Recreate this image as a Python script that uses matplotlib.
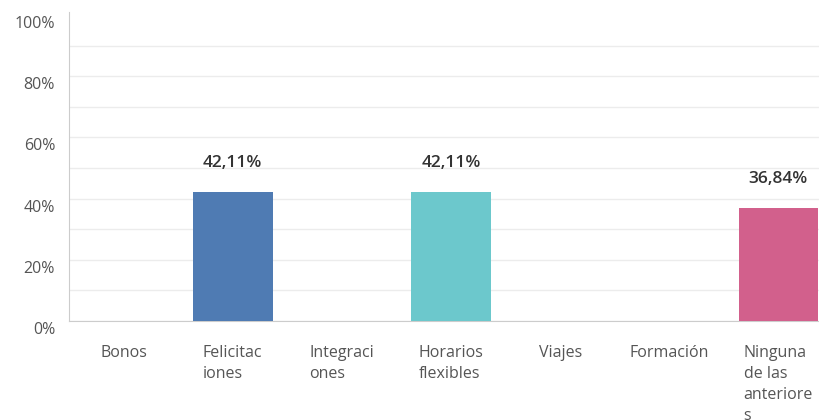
import numpy as np
import matplotlib
matplotlib.use("Agg")
import matplotlib.pyplot as plt
from matplotlib.transforms import ScaledTranslation

categories = ["Bonos", "Felicitac\niones", "Integraci\nones", "Horarios\nflexibles",
              "Viajes", "Formación", "Ninguna\nde las\nanteriore\ns"]
values = [0.0, 42.11, 0.0, 42.11, 0.0, 0.0, 36.84]
value_labels = ["", "42,11%", "", "42,11%", "", "", "36,84%"]
colors = ["#4f7bb3", "#4f7bb3", "#4f7bb3", "#6cc8cc", "#6cc8cc", "#6cc8cc", "#d2608c"]

plt.rcParams["font.family"] = ["Open Sans", "DejaVu Sans"]

fig = plt.figure(figsize=(8.2, 4.2), dpi=100)
ax = fig.add_axes([69 / 820, 1 - 321 / 420, 764 / 820, 306 / 420])

x = np.arange(len(categories))
bars = ax.bar(x, values, width=0.73, color=colors, zorder=3)

for b, lab in zip(bars, value_labels):
    if lab:
        ax.annotate(lab, (b.get_x() + b.get_width() / 2, b.get_height()),
                    xytext=(0, 15), textcoords="offset points", ha="center",
                    va="bottom", fontsize=12.5, color="#333333", fontweight="semibold")

ax.set_xlim(-0.5, len(categories) - 0.5)
ax.set_ylim(0, 100)
ax.set_yticks(np.arange(0, 101, 20))
ax.set_yticks(np.arange(10, 100, 20), minor=True)
ax.set_yticklabels([f"{v}%" for v in range(0, 101, 20)], fontsize=11.5, color="#555555")
ax.grid(axis="y", which="both", color="#ececec", linewidth=1, zorder=0)
ax.yaxis.get_gridlines()[-1].set_visible(False)
ax.tick_params(axis="y", which="both", length=0, pad=10)
for t in ax.get_yticklabels():
    t.set_transform(t.get_transform() + ScaledTranslation(0, -7 / 100, fig.dpi_scale_trans))

ax.set_xticks(x)
ax.set_xticklabels(categories, fontsize=11.5, color="#555555", linespacing=1.43,
                   ha="center", va="top", multialignment="left")
ax.tick_params(axis="x", length=0, pad=17)

for s in ["top", "right"]:
    ax.spines[s].set_visible(False)
ax.spines["left"].set_color("#cccccc")
ax.spines["bottom"].set_color("#cccccc")
ax.spines["left"].set_bounds(0, 101)

fig.savefig("out.png", dpi=100)
